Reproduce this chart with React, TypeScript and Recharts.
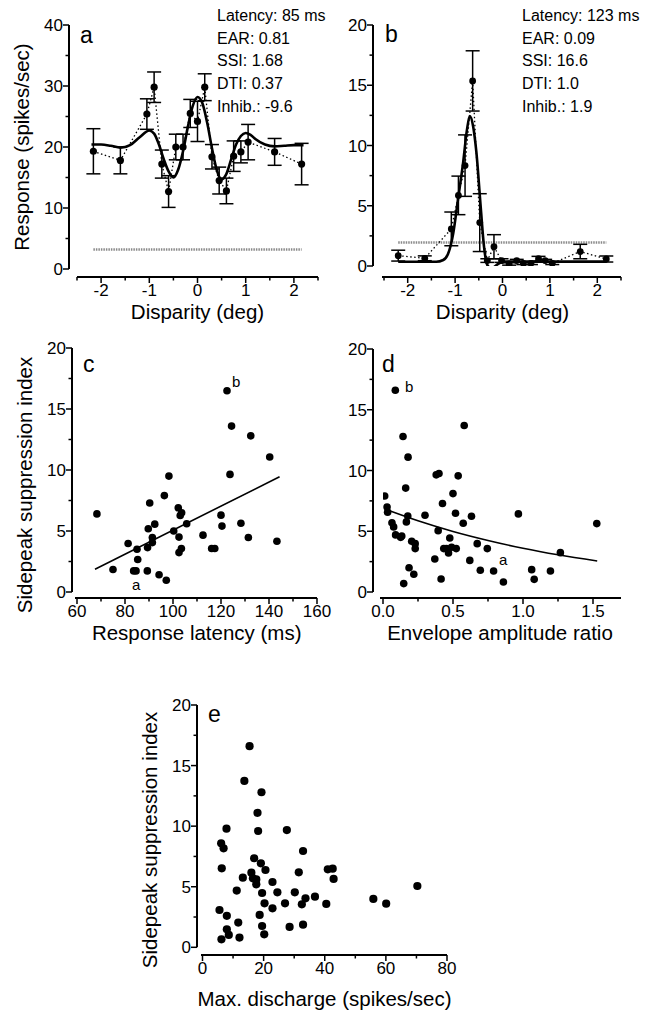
import React from 'react';
import { ComposedChart, XAxis, YAxis, Line, Scatter, ErrorBar, ReferenceLine } from 'recharts';

const FONT = '"Liberation Sans", Arial, Helvetica, sans-serif';

// ---------- Panel a ----------
const dispA = [-2.16, -1.6, -1.05, -0.9, -0.74, -0.6, -0.45, -0.3, -0.15, 0, 0.15, 0.3, 0.45, 0.6, 0.75, 0.9, 1.05, 1.6, 2.16];
const respA = [19.3, 17.8, 25.4, 29.8, 17.2, 12.7, 20.0, 20.0, 25.5, 24.2, 29.8, 18.4, 14.5, 12.8, 18.5, 19.2, 20.8, 19.2, 17.2];
const errA = [3.7, 2.2, 2.5, 2.5, 2.3, 2.6, 2.1, 2.1, 2.3, 3.3, 2.2, 2.0, 2.2, 2.1, 2.5, 1.8, 2.9, 2.2, 3.4];
const fitXA = [-2.2, -2.0, -1.8, -1.6, -1.4, -1.2, -1.0, -0.9, -0.8, -0.7, -0.6, -0.5, -0.4, -0.3, -0.2, -0.1, 0, 0.1, 0.2, 0.3, 0.4, 0.5, 0.6, 0.7, 0.8, 0.9, 1.0, 1.1, 1.2, 1.4, 1.6, 1.8, 2.0, 2.2];
const fitYA = [20.4, 20.4, 20.2, 19.9, 20.3, 21.6, 22.7, 22.2, 20.4, 18.0, 16.0, 15.0, 16.3, 19.3, 23.3, 26.7, 28.2, 27.2, 24.0, 19.8, 16.2, 14.7, 15.6, 18.0, 20.4, 21.8, 22.3, 22.0, 21.3, 20.4, 20.1, 20.2, 20.3, 20.3];
const spontA = 3.2;
const statsA = ['Latency: 85 ms', 'EAR: 0.81', 'SSI: 1.68', 'DTI: 0.37', 'Inhib.: -9.6'];

// ---------- Panel b ----------
const dispB = [-2.2, -1.64, -1.08, -0.93, -0.79, -0.63, -0.48, -0.32, -0.18, -0.02, 0.14, 0.3, 0.44, 0.6, 0.76, 0.9, 1.05, 1.64, 2.19];
const respB = [0.86, 0.64, 3.08, 5.86, 8.33, 15.36, 3.6, 0.45, 1.6, 0.45, 0.17, 0.45, 0.22, 0.22, 0.6, 0.45, 0.22, 1.2, 0.58];
const errB = [0.45, 0.2, 1.4, 1.6, 2.55, 2.5, 2.4, 0.15, 1.0, 0.15, 0.1, 0.1, 0.1, 0.1, 0.2, 0.1, 0.1, 0.6, 0.25];
const fitXB = [-2.2, -1.4, -1.25, -1.15, -1.1, -1.04, -0.94, -0.83, -0.75, -0.69, -0.62, -0.55, -0.46, -0.39, -0.32, -0.23, -0.12, 0.02, 2.2];
const fitYB = [0.35, 0.35, 0.5, 1.0, 1.6, 2.7, 5.5, 8.6, 11.3, 12.45, 11.6, 9.4, 4.9, 1.6, 0.08, -0.2, 0.1, 0.36, 0.36];
const spontB = 1.95;
const statsB = ['Latency: 123 ms', 'EAR: 0.09', 'SSI: 16.6', 'DTI: 1.0', 'Inhib.: 1.9'];

// ---------- Panel c ----------
const latC = [68.3, 75, 81.3, 83.6, 84.6, 85, 85.3, 89.3, 89.4, 89.7, 90.3, 91.4, 91.4, 92.4, 94.2, 96.4, 97.2, 98.3, 100.3, 102.2, 102.5, 102.5, 103, 103.6, 103.5, 105.7, 112.5, 116.1, 117.4, 120, 120.4, 122.5, 123.75, 124.4, 128.3, 131.4, 132.4, 140.3, 143.3];
const ssiC = [6.4, 1.84, 3.97, 1.73, 1.73, 3.5, 2.66, 1.73, 3.64, 5.18, 7.3, 4.47, 4.05, 5.56, 1.42, 7.9, 0.96, 9.5, 5.0, 6.9, 4.5, 3.23, 6.27, 6.5, 3.56, 5.6, 4.66, 3.56, 3.56, 6.3, 5.4, 16.5, 9.64, 13.6, 5.64, 4.47, 12.8, 11.07, 4.16];
const fitXC = [67.5, 144.4];
const fitYC = [1.86, 9.45];

// ---------- Panel d ----------
const earD = [0.012, 0.029, 0.033, 0.064, 0.076, 0.09, 0.126, 0.088, 0.134, 0.143, 0.148, 0.162, 0.167, 0.177, 0.179, 0.186, 0.205, 0.22, 0.23, 0.23, 0.30, 0.37, 0.38, 0.40, 0.394, 0.415, 0.425, 0.434, 0.453, 0.468, 0.477, 0.49, 0.50, 0.518, 0.523, 0.537, 0.573, 0.58, 0.62, 0.632, 0.673, 0.695, 0.745, 0.79, 0.86, 0.967, 1.062, 1.08, 1.196, 1.267, 1.527];
const ssiD = [7.9, 7.0, 6.57, 5.7, 5.36, 4.7, 4.5, 16.6, 4.6, 12.8, 0.69, 8.55, 5.77, 6.26, 11.1, 2.0, 4.18, 1.46, 3.98, 3.57, 6.32, 2.72, 9.64, 9.75, 5.05, 1.07, 7.28, 3.57, 3.57, 3.21, 4.45, 3.68, 8.1, 6.48, 3.57, 9.56, 5.66, 13.7, 2.6, 6.24, 3.98, 1.79, 3.57, 1.73, 0.82, 6.43, 1.84, 1.04, 1.73, 3.24, 5.63];
const fitXD = [0.036, 0.25, 0.5, 0.75, 1.0, 1.25, 1.53];
const fitYD = [6.73, 5.86, 4.98, 4.24, 3.6, 3.06, 2.55];

// ---------- Panel e ----------
const maxE = [5.56, 6.2, 6.1, 6.9, 6.3, 7.96, 7.96, 7.85, 8.6, 11.2, 11.7, 12.1, 13.2, 13.7, 15.4, 16.0, 16.5, 16.9, 17.6, 17.6, 18.0, 18.2, 18.7, 19.1, 19.3, 19.5, 19.5, 20.2, 20.3, 20.6, 22.9, 22.9, 24.5, 27.0, 27.6, 28.5, 30.2, 31.5, 32.5, 32.9, 32.9, 33.7, 36.8, 40.5, 41.0, 42.6, 42.9, 55.9, 60.1, 70.3];
const ssiE = [3.08, 0.66, 8.58, 8.17, 6.52, 2.6, 1.49, 9.79, 1.02, 4.68, 2.04, 0.8, 5.75, 13.73, 16.6, 6.16, 5.69, 7.35, 5.6, 5.2, 11.1, 9.6, 2.67, 6.93, 12.8, 4.48, 1.76, 1.07, 3.63, 6.38, 3.22, 5.39, 4.54, 3.63, 9.68, 1.68, 4.54, 6.19, 3.55, 7.95, 1.87, 4.04, 4.18, 3.58, 6.44, 6.49, 5.64, 3.99, 3.6, 5.06];

// ---------- Ticks ----------
const ticksDisp = [-2.5, -2, -1.5, -1, -0.5, 0, 0.5, 1, 1.5, 2, 2.5];
const ticksRespA = [0, 5, 10, 15, 20, 25, 30, 35, 40];
const ticksRespB = [0, 2.5, 5, 7.5, 10, 12.5, 15, 17.5, 20];
const ticksSSI = [0, 2.5, 5, 7.5, 10, 12.5, 15, 17.5, 20];
const ticksLat = [60, 70, 80, 90, 100, 110, 120, 130, 140, 150, 160];
const ticksEAR = [0, 0.25, 0.5, 0.75, 1.0, 1.25, 1.5];
const ticksMax = [0, 10, 20, 30, 40, 50, 60, 70, 80];

const zip = (xs: number[], ys: number[], es?: number[]) => xs.map((x, i) => (es ? { x, y: ys[i], err: es[i] } : { x, y: ys[i] }));

const isMult = (v: number, step: number) => Math.abs(v / step - Math.round(v / step)) < 1e-6;

const makeXTick = (major: (v: number) => boolean, fmt: (v: number) => string) => (props: any) => {
  const { x, y, payload } = props;
  const v = payload.value;
  const m = major(v);
  return (
    <g>
      <line x1={x} x2={x} y1={y} y2={y + (m ? 6 : 3.5)} stroke="#000" strokeWidth={1.5} />
      {m && (
        <text x={x} y={y + 19} textAnchor="middle" fontSize={17} fontFamily={FONT} fill="#000">
          {fmt(v)}
        </text>
      )}
    </g>
  );
};

const makeYTick = (major: (v: number) => boolean, fmt: (v: number) => string) => (props: any) => {
  const { x, y, payload } = props;
  const v = payload.value;
  const m = major(v);
  return (
    <g>
      <line x1={x} x2={x - (m ? 6 : 3.5)} y1={y} y2={y} stroke="#000" strokeWidth={1.5} />
      {m && (
        <text x={x - 6} y={y + 6} textAnchor="end" fontSize={17} fontFamily={FONT} fill="#000">
          {fmt(v)}
        </text>
      )}
    </g>
  );
};

const dot = (r: number) => (p: any) => <circle cx={p.cx} cy={p.cy} r={r} fill="#000" />;

type PanelProps = {
  L: number; T: number; R: number; B: number; padL: number; padB: number; gapX: number;
  xDomain: [number, number]; yDomain: [number, number];
  xTicks: number[]; yTicks: number[];
  xStep: number; yStep: number;
  xFmt: (v: number) => string;
  children: React.ReactNode;
};

const W = 645;
const H = 1013;

function Panel(p: PanelProps) {
  const ph = p.B - p.T;
  return (
    <div style={{ position: 'absolute', left: 0, top: 0, width: W, height: H }}>
      <ComposedChart
        width={W}
        height={H}
        margin={{ top: p.T, left: p.L - 30, right: W - p.R, bottom: H - p.B - 30 }}
      >
        <XAxis
          dataKey="x"
          type="number"
          domain={p.xDomain}
          allowDataOverflow
          ticks={p.xTicks}
          interval={0}
          height={30}
          padding={{ left: p.padL, right: 0 }}
          tickSize={0}
          tickMargin={0}
          tickLine={false}
          axisLine={{ stroke: '#000', strokeWidth: 2, strokeDasharray: `0 ${p.gapX} 100000` }}
          tick={makeXTick((v) => isMult(v, p.xStep), p.xFmt)}
        />
        <YAxis
          dataKey="y"
          type="number"
          domain={p.yDomain}
          allowDataOverflow
          ticks={p.yTicks}
          interval={0}
          width={30}
          padding={{ top: 0, bottom: p.padB }}
          tickSize={0}
          tickMargin={0}
          tickLine={false}
          axisLine={{ stroke: '#000', strokeWidth: 2, strokeDasharray: `${ph - p.padB} 100000` }}
          tick={makeYTick((v) => isMult(v, p.yStep), (v) => String(v))}
        />
        {p.children}
      </ComposedChart>
    </div>
  );
}

const statBase = [21, 43.7, 66.4, 89.1, 111.8];

export default function App() {
  const ptsA = zip(dispA, respA, errA);
  const ptsB = zip(dispB, respB, errB);
  return (
    <div style={{ position: 'absolute', left: 0, top: 0, width: W, height: H, background: '#fff', overflow: 'hidden' }}>
      {/* Panel a */}
      <Panel L={69} T={25} R={318} B={277} padL={8} padB={8} gapX={8}
        xDomain={[-2.5, 2.5]} yDomain={[0, 40]} xTicks={ticksDisp} yTicks={ticksRespA}
        xStep={1} yStep={10} xFmt={(v) => String(v)}>
        <ReferenceLine segment={[{ x: dispA[0], y: spontA }, { x: dispA[dispA.length - 1], y: spontA }]}
          stroke="#8a8a8a" strokeWidth={2.5} strokeDasharray="1.5 1" />
        <Line data={ptsA} dataKey="y" type="linear" stroke="#000" strokeWidth={1.3} strokeDasharray="1.5 2.5" dot={false} isAnimationActive={false} />
        <Line data={zip(fitXA, fitYA)} dataKey="y" type="monotone" stroke="#000" strokeWidth={2.6} dot={false} isAnimationActive={false} />
        <Scatter data={ptsA} dataKey="y" shape={dot(3.6)} isAnimationActive={false}>
          <ErrorBar dataKey="err" direction="y" width={7} stroke="#000" strokeWidth={1.5} />
        </Scatter>
      </Panel>

      {/* Panel b */}
      <Panel L={373} T={25} R={621} B={277} padL={11} padB={11} gapX={9}
        xDomain={[-2.5, 2.5]} yDomain={[0, 20]} xTicks={ticksDisp} yTicks={ticksRespB}
        xStep={1} yStep={5} xFmt={(v) => String(v)}>
        <ReferenceLine segment={[{ x: dispB[0], y: spontB }, { x: dispB[dispB.length - 1], y: spontB }]}
          stroke="#8a8a8a" strokeWidth={2.5} strokeDasharray="1.5 1" />
        <Line data={ptsB} dataKey="y" type="linear" stroke="#000" strokeWidth={1.3} strokeDasharray="1.5 2.5" dot={false} isAnimationActive={false} />
        <Line data={zip(fitXB, fitYB)} dataKey="y" type="monotone" stroke="#000" strokeWidth={2.6} dot={false} isAnimationActive={false} />
        <Scatter data={ptsB} dataKey="y" shape={dot(3.4)} isAnimationActive={false}>
          <ErrorBar dataKey="err" direction="y" width={7} stroke="#000" strokeWidth={1.5} />
        </Scatter>
      </Panel>

      {/* Panel c */}
      <Panel L={72} T={348} R={317} B={598} padL={5} padB={6} gapX={3}
        xDomain={[60, 160]} yDomain={[0, 20]} xTicks={ticksLat} yTicks={ticksSSI}
        xStep={20} yStep={5} xFmt={(v) => String(v)}>
        <Line data={zip(fitXC, fitYC)} dataKey="y" type="linear" stroke="#000" strokeWidth={1.6} dot={false} isAnimationActive={false} />
        <Scatter data={zip(latC, ssiC)} dataKey="y" shape={dot(3.8)} isAnimationActive={false} />
      </Panel>

      {/* Panel d */}
      <Panel L={373} T={349} R={621} B={598} padL={10} padB={6} gapX={7}
        xDomain={[0, 1.7]} yDomain={[0, 20]} xTicks={ticksEAR} yTicks={ticksSSI}
        xStep={0.5} yStep={5} xFmt={(v) => v.toFixed(1)}>
        <Line data={zip(fitXD, fitYD)} dataKey="y" type="monotone" stroke="#000" strokeWidth={1.6} dot={false} isAnimationActive={false} />
        <Scatter data={zip(earD, ssiD)} dataKey="y" shape={dot(3.8)} isAnimationActive={false} />
      </Panel>

      {/* Panel e */}
      <Panel L={197} T={705} R={447} B={955} padL={5.5} padB={7.7} gapX={4}
        xDomain={[0, 80]} yDomain={[0, 20]} xTicks={ticksMax} yTicks={ticksSSI}
        xStep={20} yStep={5} xFmt={(v) => String(v)}>
        <Scatter data={zip(maxE, ssiE)} dataKey="y" shape={dot(4.1)} isAnimationActive={false} />
      </Panel>

      {/* Text overlay */}
      <svg width={W} height={H} style={{ position: 'absolute', left: 0, top: 0, pointerEvents: 'none' }} fontFamily={FONT} fill="#000">
        {statsA.map((s, i) => (
          <text key={'sa' + i} x={217} y={statBase[i]} fontSize={16}>{s}</text>
        ))}
        {statsB.map((s, i) => (
          <text key={'sb' + i} x={522} y={statBase[i]} fontSize={16}>{s}</text>
        ))}
        <text x={80} y={43} fontSize={23}>a</text>
        <text x={385} y={42} fontSize={23}>b</text>
        <text x={83} y={372} fontSize={23}>c</text>
        <text x={382} y={372} fontSize={23}>d</text>
        <text x={208} y={722} fontSize={23}>e</text>

        <text x={232} y={387} fontSize={15}>b</text>
        <text x={132} y={590} fontSize={15}>a</text>
        <text x={405} y={392} fontSize={15}>b</text>
        <text x={499} y={565} fontSize={15}>a</text>

        <text transform="translate(29,147) rotate(-90)" textAnchor="middle" fontSize={20.5}>Response (spikes/sec)</text>
        <text transform="translate(32,485) rotate(-90)" textAnchor="middle" fontSize={20.5}>Sidepeak suppression index</text>
        <text transform="translate(157,840) rotate(-90)" textAnchor="middle" fontSize={20.5}>Sidepeak suppression index</text>

        <text x={197.5} y={319} textAnchor="middle" fontSize={20.5}>Disparity (deg)</text>
        <text x={502.5} y={319} textAnchor="middle" fontSize={20.5}>Disparity (deg)</text>
        <text x={196.7} y={640} textAnchor="middle" fontSize={20.5}>Response latency (ms)</text>
        <text x={500} y={640} textAnchor="middle" fontSize={20.5}>Envelope amplitude ratio</text>
        <text x={324.5} y={1006} textAnchor="middle" fontSize={20.5}>Max. discharge (spikes/sec)</text>
      </svg>
    </div>
  );
}
